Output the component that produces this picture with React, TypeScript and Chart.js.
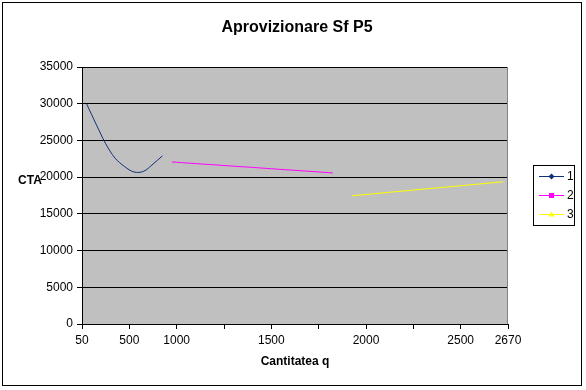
import React, { useEffect, useRef } from "react";
import { Chart, registerables } from "chart.js";

Chart.register(...registerables);

const TITLE = "Aprovizionare Sf P5";
const X_TITLE = "Cantitatea q";
const Y_TITLE = "CTA";

// category axis: 45 categories, a tick mark every 5 categories
const CATEGORY_COUNT = 45;
const CATEGORIES_PER_TICK = 5;
const X_TICK_LABELS = ["50", "500", "1000", "", "1500", "", "2000", "", "2500", "2670"];

const Y_MIN = 0;
const Y_MAX = 35000;
const Y_STEP = 5000;

const SERIES_NAMES = ["1", "2", "3"];
const SERIES_COLORS = ["#10307a", "#ff00ff", "#ffff00"];
const SERIES_MARKERS = ["rectRot", "rect", "triangle"];
// first category index of each series
const SERIES_START = [0, 9, 28];

const SERIES_1 = [29950, 27190, 24560, 22580, 21440, 20700, 20790, 21780, 22900];
const SERIES_2 = [
  22070, 21980, 21890, 21800, 21720, 21630, 21540, 21450, 21370, 21280, 21190, 21100, 21010,
  20930, 20840, 20750, 20660, 20570,
];
const SERIES_3 = [
  17460, 17580, 17700, 17820, 17940, 18060, 18180, 18300, 18420, 18540, 18650, 18770, 18890,
  19010, 19130, 19250, 19370,
];

const SERIES_VALUES = [SERIES_1, SERIES_2, SERIES_3];

const FONT = "Arial, 'Liberation Sans', sans-serif";

const decorPlugin = {
  id: "decor",
  beforeDraw(chart: any) {
    const { ctx, chartArea, width, height } = chart;
    ctx.save();
    ctx.fillStyle = "#ffffff";
    ctx.fillRect(0, 0, width, height);
    ctx.fillStyle = "#c0c0c0";
    ctx.fillRect(chartArea.left, chartArea.top, chartArea.right - chartArea.left, chartArea.bottom - chartArea.top);
    ctx.strokeStyle = "#000000";
    ctx.lineWidth = 1;
    ctx.strokeRect(2.5, 2.5, 579, 383);
    ctx.restore();
  },
  beforeDatasetsDraw(chart: any) {
    const { ctx, chartArea } = chart;
    ctx.save();
    ctx.strokeStyle = "#808080";
    ctx.lineWidth = 1;
    ctx.beginPath();
    ctx.moveTo(Math.round(chartArea.right) - 0.5, chartArea.top);
    ctx.lineTo(Math.round(chartArea.right) - 0.5, chartArea.bottom);
    ctx.stroke();
    ctx.restore();
  },
  afterDraw(chart: any) {
    const { ctx, chartArea } = chart;
    ctx.save();
    ctx.fillStyle = "#000000";
    ctx.textAlign = "center";
    ctx.textBaseline = "middle";
    ctx.font = `bold 16px ${FONT}`;
    ctx.fillText(TITLE, 297, 28);
    ctx.font = `bold 12px ${FONT}`;
    ctx.fillText(X_TITLE, (chartArea.left + chartArea.right) / 2, 362);
    ctx.fillText(Y_TITLE, 30, 181);

    // legend
    ctx.strokeStyle = "#000000";
    ctx.lineWidth = 1;
    ctx.strokeRect(533.5, 165.5, 41, 60);
    const ys = [176, 195, 214];
    chart.data.datasets.forEach((ds: any, i: number) => {
      const y = ys[i] + 0.5;
      ctx.strokeStyle = ds.borderColor;
      ctx.fillStyle = ds.borderColor;
      ctx.lineWidth = 1;
      ctx.beginPath();
      ctx.moveTo(539, y);
      ctx.lineTo(564, y);
      ctx.stroke();
      const cx = 551.5;
      const r = 3;
      ctx.beginPath();
      if (ds.pointStyle === "rectRot") {
        ctx.moveTo(cx, y - r);
        ctx.lineTo(cx + r, y);
        ctx.lineTo(cx, y + r);
        ctx.lineTo(cx - r, y);
        ctx.closePath();
      } else if (ds.pointStyle === "rect") {
        ctx.rect(cx - 2.5, y - 2.5, 5, 5);
      } else {
        ctx.moveTo(cx, y - r);
        ctx.lineTo(cx + r, y + 2);
        ctx.lineTo(cx - r, y + 2);
        ctx.closePath();
      }
      ctx.fill();
      ctx.fillStyle = "#000000";
      ctx.font = `12px ${FONT}`;
      ctx.textAlign = "left";
      ctx.fillText(ds.label, 567, y);
    });
    ctx.restore();
  },
};

export default function App() {
  const canvasRef = useRef<HTMLCanvasElement | null>(null);

  useEffect(() => {
    if (!canvasRef.current) return;
    const datasets = SERIES_VALUES.map((vals, s) => ({
      label: SERIES_NAMES[s],
      data: vals.map((v, k) => ({ x: SERIES_START[s] + k + 0.5, y: v })),
      borderColor: SERIES_COLORS[s],
      backgroundColor: SERIES_COLORS[s],
      borderWidth: 1,
      pointRadius: 0,
      pointHoverRadius: 0,
      pointStyle: SERIES_MARKERS[s],
      tension: 0.35,
      fill: false,
    }));

    const chart = new Chart(canvasRef.current, {
      type: "line",
      data: { datasets },
      plugins: [decorPlugin],
      options: {
        animation: false,
        responsive: false,
        devicePixelRatio: 1,
        layout: { padding: { top: 67, left: 0, right: 78, bottom: 0 } },
        plugins: {
          legend: { display: false },
          title: { display: false },
          tooltip: { enabled: false },
        },
        scales: {
          x: {
            type: "linear",
            min: 0,
            max: CATEGORY_COUNT,
            ticks: {
              stepSize: CATEGORIES_PER_TICK,
              autoSkip: false,
              maxRotation: 0,
              color: "#000000",
              padding: 4,
              font: { family: FONT, size: 12 },
              callback: (v: any) => X_TICK_LABELS[Math.round(Number(v) / CATEGORIES_PER_TICK)] ?? "",
            },
            grid: { drawOnChartArea: false, drawTicks: true, tickLength: 5, color: "#000000" },
            border: { color: "#000000", width: 1 },
            afterFit: (s: any) => {
              s.height = 66;
            },
          },
          y: {
            min: Y_MIN,
            max: Y_MAX,
            ticks: {
              stepSize: Y_STEP,
              color: "#000000",
              padding: 4,
              font: { family: FONT, size: 12 },
              callback: (v: any) => String(v),
            },
            grid: { color: "#000000", lineWidth: 1, drawTicks: true, tickLength: 5 },
            border: { color: "#000000", width: 1 },
            afterFit: (s: any) => {
              s.width = 82;
            },
          },
        },
      } as any,
    });
    return () => chart.destroy();
  }, []);

  return (
    <div style={{ position: "absolute", left: 0, top: 0, width: 586, height: 390 }}>
      <canvas ref={canvasRef} width={586} height={390} />
    </div>
  );
}
